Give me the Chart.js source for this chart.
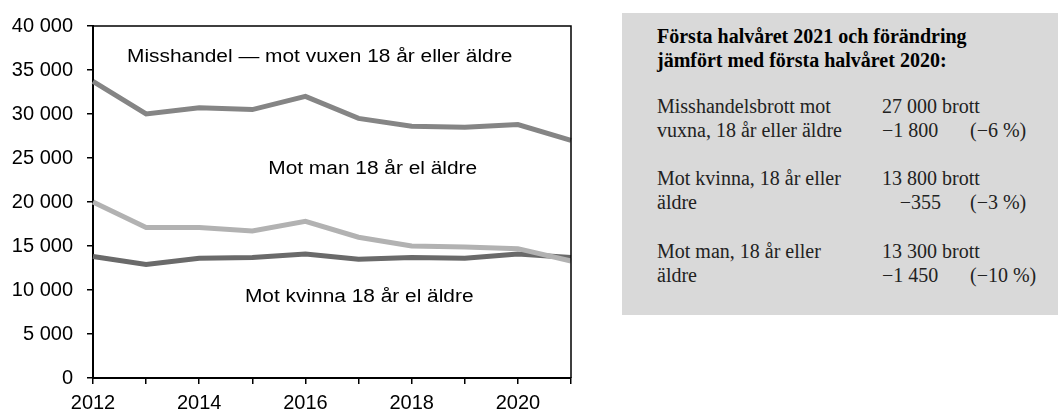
<!DOCTYPE html>
<html>
<head>
<meta charset="utf-8">
<script src="https://cdn.jsdelivr.net/npm/chart.js@4"></script>
<style>
	body { margin: 0; background: #fff; width: 1060px; height: 414px; position: relative; overflow: hidden; }
	#wrap { position: absolute; left: 0; top: 0; width: 590px; height: 414px; }
	#box { position: absolute; left: 622px; top: 13px; width: 436px; height: 302px; background: #d9d9d9; }
	.t { position: absolute; font-family: "Liberation Serif", "Times New Roman", serif; font-size: 20px; line-height: 23.5px; color: #222; white-space: nowrap; }
	.b { font-weight: bold; color: #000; font-size: 20px; }
</style>
</head>
<body>
<div id="wrap"><canvas id="myChart" width="590" height="414"></canvas></div>
<div id="box"></div>
<div class="t b" style="left:657px; top:25px">Första halvåret 2021 och förändring<br>jämfört med första halvåret 2020:</div>

<div class="t" style="left:657px; top:95px">Misshandelsbrott mot<br>vuxna, 18 år eller äldre</div>
<div class="t" style="left:882px; top:95px">27 000 brott<br>−1 800</div>
<div class="t" style="left:970px; top:118.5px">(−6 %)</div>

<div class="t" style="left:657px; top:167px">Mot kvinna, 18 år eller<br>äldre</div>
<div class="t" style="left:882px; top:167px">13 800 brott</div>
<div class="t" style="left:882px; top:190.5px; width:59px; text-align:right">−355</div>
<div class="t" style="left:970px; top:190.5px">(−3 %)</div>

<div class="t" style="left:657px; top:240px">Mot man, 18 år eller<br>äldre</div>
<div class="t" style="left:882px; top:240px">13 300 brott<br>−1 450</div>
<div class="t" style="left:970px; top:263.5px">(−10 %)</div>

<script>
const years = ['2012', '2013', '2014', '2015', '2016', '2017', '2018', '2019', '2020', '2021']
const vuxen = [33700, 30000, 30700, 30500, 32000, 29500, 28600, 28500, 28800, 27000]
const man = [20000, 17100, 17100, 16700, 17800, 16000, 15000, 14900, 14700, 13300]
const kvinna = [13800, 12900, 13600, 13700, 14100, 13500, 13700, 13600, 14100, 13700]

const yTicks = [0, 5000, 10000, 15000, 20000, 25000, 30000, 35000, 40000]

// text written inside the plot, anchored in data units
const noteTexts = ['Misshandel \u2014 mot vuxen 18 år eller äldre', 'Mot man 18 år el äldre', 'Mot kvinna 18 år el äldre']
const noteX = [0.64, 3.3, 2.86]
const noteY = [36500, 23750, 9200]

const fmt = v => String(v).replace(/\B(?=(\d{3})+(?!\d))/g, ' ')

const frame = {
	id: 'frame',
	afterDatasetsDraw(chart) {
		const a = chart.chartArea
		const c = chart.ctx
		c.save()
		c.strokeStyle = '#000'
		c.lineWidth = 1.5
		c.beginPath()
		c.moveTo(a.left, a.top)
		c.lineTo(a.right, a.top)
		c.lineTo(a.right, a.bottom)
		c.stroke()
		c.restore()
	},
	afterDraw(chart) {
		const c = chart.ctx
		const xs = chart.scales.x
		const ys = chart.scales.y
		for (let i = 0; i < noteTexts.length; i++) {
			const px = xs.getPixelForValue(noteX[i])
			const py = ys.getPixelForValue(noteY[i])
			c.save()
			c.translate(px, py)
			c.scale(1.16, 1) // reference text is a bit wider than Arial
			c.font = '18px "Liberation Sans", Arial, sans-serif'
			c.fillStyle = '#000'
			c.textBaseline = 'middle'
			c.textAlign = 'left'
			c.fillText(noteTexts[i], 0, 0)
			c.restore()
		}
	}
}

const ds = (label, values, color, order) => ({
	label: label,
	data: values,
	borderColor: color,
	backgroundColor: color,
	borderWidth: 5,
	pointRadius: 0,
	tension: 0,
	fill: false,
	order: order
})

new Chart(document.getElementById('myChart'), {
	type: 'line',
	data: {
		labels: years,
		datasets: [
			ds('Mot man', man, '#b2b2b2', 0),
			ds('Mot kvinna', kvinna, '#6a6a6a', 1),
			ds('Mot vuxen', vuxen, '#858585', 2)
		]
	},
	options: {
		responsive: false,
		animation: false,
		layout: { padding: { top: 21, right: 19, left: 0, bottom: 0 } },
		plugins: { legend: { display: false }, tooltip: { enabled: false } },
		scales: {
			x: {
				offset: false,
				grid: { drawOnChartArea: false, drawTicks: true, tickLength: 6, color: '#000', lineWidth: 1.5 },
				border: { color: '#000', width: 2 },
				ticks: {
					autoSkip: false,
					maxRotation: 0,
					padding: 7,
					color: '#000',
					font: { family: '"Liberation Sans", Arial, sans-serif', size: 20 },
					callback: function (v, i) { return i % 2 === 0 ? years[i] : '' }
				},
				afterFit: s => { s.height = 36 }
			},
			y: {
				min: 0,
				max: 40000,
				afterBuildTicks: s => { s.ticks = yTicks.map(v => ({ value: v })) },
				grid: { drawOnChartArea: false, drawTicks: true, tickLength: 6, color: '#000', lineWidth: 1.5 },
				border: { color: '#000', width: 2 },
				ticks: {
					padding: 14,
					color: '#000',
					font: { family: '"Liberation Sans", Arial, sans-serif', size: 20 },
					callback: v => fmt(v)
				},
				afterFit: s => { s.width = 93 }
			}
		}
	},
	plugins: [frame]
})
</script>
</body>
</html>
